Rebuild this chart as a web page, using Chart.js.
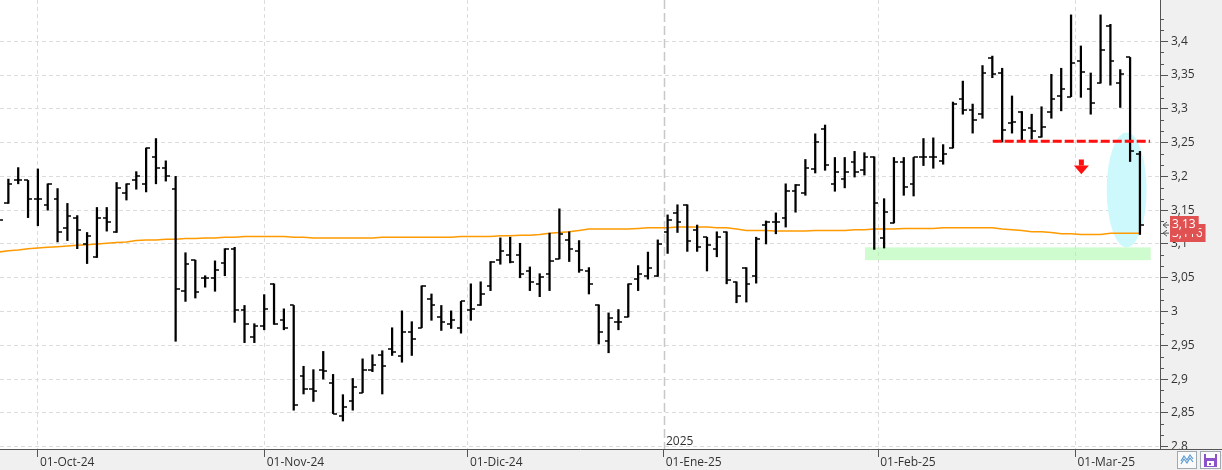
<!DOCTYPE html>
<html>
<head>
<meta charset="utf-8">
<title>OHLC</title>
<script src="https://cdn.jsdelivr.net/npm/chart.js@4.4.1/dist/chart.umd.min.js"></script>
<style>
  html, body { margin: 0; padding: 0; background: #f0f0f0; }
  canvas { display: block; }
</style>
</head>
<body>
<canvas id="ohlcChart" width="1222" height="470"></canvas>
<script>
// daily bars, one entry per session (index 0 = 25-Sep-24, last = 11-Mar-25)
var opens = [
  3.150, 3.160, 3.195, 3.194, 3.166, 3.157, 3.167, 3.123, 3.138, 3.100,
  3.080, 3.138, 3.117, 3.176, 3.195, 3.188, 3.228, 3.213, 3.182, 3.031,
  3.076, 3.050, 3.050, 3.072, 3.092, 3.003, 2.963, 2.978, 3.041, 2.988,
  3.009, 2.905, 2.886, 2.914, 2.894, 2.846, 2.867, 2.880, 2.913, 2.935,
  2.945, 2.934, 2.969, 2.976, 3.019, 2.992, 2.982, 2.976, 3.003, 3.009,
  3.038, 3.076, 3.084, 3.083, 3.060, 3.041, 3.055, 3.078, 3.106, 3.089,
  3.060, 3.010, 2.957, 2.985, 2.992, 3.048, 3.053, 3.052, 3.118, 3.146,
  3.158, 3.121, 3.110, 3.093, 3.118, 3.044, 3.065, 3.053, 3.128, 3.133,
  3.139, 3.179, 3.176, 3.211, 3.270, 3.189, 3.196, 3.221, 3.209, 3.229,
  3.109, 3.131, 3.221, 3.189, 3.229, 3.229, 3.223, 3.242, 3.314, 3.298,
  3.292, 3.375, 3.353, 3.279, 3.296, 3.272, 3.258, 3.296, 3.319, 3.318,
  3.371, 3.329, 3.338, 3.422, 3.338, 3.376, 3.233
];
var highs = [
  3.160, 3.196, 3.213, 3.194, 3.211, 3.189, 3.182, 3.160, 3.142, 3.117,
  3.154, 3.154, 3.191, 3.189, 3.207, 3.242, 3.256, 3.223, 3.200, 3.087,
  3.076, 3.053, 3.075, 3.093, 3.095, 3.009, 2.982, 3.025, 3.041, 3.004,
  3.009, 2.919, 2.914, 2.941, 2.907, 2.877, 2.901, 2.930, 2.936, 2.942,
  2.976, 3.001, 2.985, 3.038, 3.026, 3.009, 3.001, 3.015, 3.041, 3.044,
  3.074, 3.109, 3.110, 3.101, 3.066, 3.056, 3.116, 3.152, 3.118, 3.105,
  3.065, 3.010, 2.998, 3.003, 3.041, 3.068, 3.088, 3.106, 3.143, 3.158,
  3.158, 3.128, 3.110, 3.118, 3.118, 3.044, 3.065, 3.110, 3.134, 3.146,
  3.189, 3.188, 3.225, 3.263, 3.276, 3.228, 3.228, 3.237, 3.235, 3.229,
  3.167, 3.228, 3.228, 3.228, 3.256, 3.257, 3.247, 3.310, 3.341, 3.307,
  3.364, 3.378, 3.360, 3.319, 3.296, 3.292, 3.303, 3.351, 3.360, 3.439,
  3.393, 3.353, 3.439, 3.425, 3.358, 3.376, 3.237
];
var lows = [
  3.128, 3.160, 3.189, 3.139, 3.127, 3.150, 3.103, 3.105, 3.093, 3.071,
  3.080, 3.119, 3.117, 3.165, 3.181, 3.177, 3.189, 3.193, 2.956, 3.015,
  3.020, 3.036, 3.030, 3.053, 2.984, 2.954, 2.954, 2.973, 2.981, 2.973,
  2.854, 2.878, 2.867, 2.900, 2.849, 2.838, 2.854, 2.880, 2.911, 2.878,
  2.935, 2.925, 2.935, 2.976, 2.987, 2.972, 2.975, 2.968, 2.987, 3.009,
  3.031, 3.070, 3.072, 3.050, 3.031, 3.022, 3.031, 3.078, 3.074, 3.058,
  3.026, 2.952, 2.939, 2.973, 2.992, 3.031, 3.048, 3.052, 3.086, 3.117,
  3.089, 3.089, 3.060, 3.081, 3.041, 3.013, 3.014, 3.042, 3.100, 3.115,
  3.125, 3.147, 3.172, 3.205, 3.209, 3.178, 3.183, 3.199, 3.202, 3.092,
  3.094, 3.131, 3.172, 3.171, 3.216, 3.212, 3.218, 3.242, 3.292, 3.264,
  3.286, 3.346, 3.251, 3.264, 3.253, 3.255, 3.258, 3.286, 3.297, 3.318,
  3.317, 3.292, 3.338, 3.335, 3.302, 3.222, 3.114
];
var closes = [
  3.135, 3.189, 3.194, 3.166, 3.166, 3.188, 3.117, 3.142, 3.120, 3.112,
  3.138, 3.132, 3.183, 3.188, 3.200, 3.242, 3.213, 3.200, 3.034, 3.070,
  3.029, 3.050, 3.062, 3.093, 3.003, 2.981, 2.978, 3.004, 2.981, 2.976,
  2.862, 2.886, 2.883, 2.912, 2.849, 2.859, 2.889, 2.913, 2.921, 2.919,
  2.940, 2.970, 2.960, 3.038, 3.009, 2.985, 2.987, 3.015, 3.004, 3.026,
  3.074, 3.090, 3.074, 3.055, 3.043, 3.051, 3.075, 3.115, 3.093, 3.061,
  3.041, 2.970, 2.991, 2.985, 3.041, 3.055, 3.065, 3.100, 3.136, 3.133,
  3.105, 3.096, 3.099, 3.110, 3.047, 3.023, 3.041, 3.107, 3.133, 3.133,
  3.179, 3.187, 3.212, 3.251, 3.217, 3.207, 3.207, 3.207, 3.229, 3.161,
  3.148, 3.221, 3.185, 3.228, 3.229, 3.229, 3.233, 3.307, 3.298, 3.283,
  3.353, 3.351, 3.269, 3.280, 3.269, 3.267, 3.273, 3.314, 3.329, 3.368,
  3.354, 3.309, 3.387, 3.371, 3.351, 3.237, 3.128
];
var movingAvg = [
  3.088, 3.090, 3.091, 3.093, 3.094, 3.095, 3.096, 3.097, 3.098, 3.099,
  3.100, 3.101, 3.102, 3.103, 3.105, 3.106, 3.106, 3.107, 3.107, 3.108,
  3.108, 3.109, 3.109, 3.110, 3.110, 3.111, 3.111, 3.111, 3.111, 3.111,
  3.110, 3.110, 3.109, 3.109, 3.109, 3.109, 3.109, 3.109, 3.109, 3.110,
  3.110, 3.110, 3.110, 3.110, 3.110, 3.110, 3.110, 3.111, 3.111, 3.111,
  3.111, 3.112, 3.112, 3.113, 3.113, 3.114, 3.116, 3.117, 3.118, 3.120,
  3.122, 3.122, 3.122, 3.122, 3.122, 3.123, 3.124, 3.124, 3.124, 3.125,
  3.125, 3.125, 3.125, 3.124, 3.124, 3.122, 3.120, 3.120, 3.120, 3.119,
  3.119, 3.119, 3.119, 3.120, 3.120, 3.120, 3.120, 3.121, 3.121, 3.122,
  3.122, 3.122, 3.123, 3.123, 3.123, 3.123, 3.124, 3.124, 3.124, 3.124,
  3.124, 3.124, 3.122, 3.121, 3.120, 3.118, 3.118, 3.117, 3.115, 3.115,
  3.114, 3.114, 3.114, 3.116, 3.116, 3.116, 3.116
];

// axis ticks (month starts fall between sessions)
var monthTicks = [4, 27.05, 47.7, 67.6, 89.4, 109.45];
var monthLabels = ['01-Oct-24', '01-Nov-24', '01-Dic-24', '01-Ene-25', '01-Feb-25', '01-Mar-25'];
var priceTicks = [2.8, 2.85, 2.9, 2.95, 3, 3.05, 3.1, 3.15, 3.2, 3.25, 3.3, 3.35, 3.4];
var yearLabel = '2025';

// drawings on the chart
var resistance = { from: 101.04, to: 117.03, value: 3.252 };
var supportZone = { from: 88.06, to: 117.1, low: 3.076, high: 3.095 };
var highlight = { x: 114.65, y: 3.18, dx: 2.03, dy: 0.085 };
var downArrow = { x: 110.05, top: 3.225, neck: 3.216, tip: 3.203 };

function fmt(v, d) {
  return (Math.round(v * Math.pow(10, d)) / Math.pow(10, d)).toString().replace('.', ',');
}

// little canvases used as point styles for the open / close ticks
function makeTick(side) {
  var c = document.createElement('canvas');
  c.width = 8;
  c.height = 2;
  var g = c.getContext('2d');
  g.fillStyle = '#000';
  if (side === 'left') {
    g.fillRect(0, 0.25, 4, 1.5);
  } else {
    g.fillRect(4, 0.25, 4, 1.5);
  }
  return c;
}
var openTick = makeTick('left');
var closeTick = makeTick('right');

var rangeData = highs.map(function (h, i) {
  return { x: i, y: [lows[i], h] };
});
var openData = opens.map(function (o, i) {
  return { x: i, y: o };
});
var closeData = closes.map(function (c, i) {
  return { x: i, y: c };
});
var maData = movingAvg.map(function (m, i) {
  return { x: i, y: m };
});

function noPadding(scale) {
  scale.paddingTop = 0;
  scale.paddingBottom = 0;
  scale.paddingLeft = 0;
  scale.paddingRight = 0;
}

var chartDecor = {
  id: 'chartDecor',
  beforeDraw: function (chart) {
    var ctx = chart.ctx;
    var a = chart.chartArea;
    ctx.save();
    ctx.fillStyle = '#f0f0f0';
    ctx.fillRect(0, 0, chart.width, chart.height);
    ctx.fillStyle = '#ffffff';
    ctx.fillRect(a.left, a.top, a.right - a.left, a.bottom - a.top);
    ctx.restore();
  },
  beforeDatasetsDraw: function (chart) {
    var ctx = chart.ctx;
    var a = chart.chartArea;
    var xs = chart.scales.x;
    var ys = chart.scales.y;
    ctx.save();
    ctx.beginPath();
    ctx.rect(a.left, a.top, a.right - a.left, a.bottom - a.top);
    ctx.clip();

    // support zone
    var x1 = xs.getPixelForValue(supportZone.from);
    var x2 = xs.getPixelForValue(supportZone.to);
    var y1 = ys.getPixelForValue(supportZone.high);
    var y2 = ys.getPixelForValue(supportZone.low);
    ctx.fillStyle = 'rgba(160, 250, 160, 0.5)';
    ctx.fillRect(x1, y1, x2 - x1, y2 - y1);

    // highlight ellipse
    var cx = xs.getPixelForValue(highlight.x);
    var cy = ys.getPixelForValue(highlight.y);
    var rx = xs.getPixelForValue(highlight.x + highlight.dx) - cx;
    var ry = cy - ys.getPixelForValue(highlight.y + highlight.dy);
    ctx.fillStyle = '#cdf9fd';
    ctx.beginPath();
    ctx.ellipse(cx, cy, rx, ry, 0, 0, Math.PI * 2);
    ctx.fill();

    // year separator
    var jx = Math.round(xs.getPixelForValue(monthTicks[3])) + 0.5;
    ctx.strokeStyle = '#c8c8c8';
    ctx.lineWidth = 1.5;
    ctx.setLineDash([9, 4]);
    ctx.beginPath();
    ctx.moveTo(jx, a.top);
    ctx.lineTo(jx, a.bottom);
    ctx.stroke();
    ctx.restore();
  },
  afterDatasetsDraw: function (chart) {
    var ctx = chart.ctx;
    var xs = chart.scales.x;
    var ys = chart.scales.y;
    ctx.save();

    // resistance line
    var ry = ys.getPixelForValue(resistance.value);
    ctx.strokeStyle = '#ff1010';
    ctx.lineWidth = 3;
    ctx.setLineDash([9, 3]);
    ctx.beginPath();
    ctx.moveTo(xs.getPixelForValue(resistance.from), ry);
    ctx.lineTo(xs.getPixelForValue(resistance.to), ry);
    ctx.stroke();
    ctx.setLineDash([]);

    // down arrow
    var ax = xs.getPixelForValue(downArrow.x);
    var aTop = ys.getPixelForValue(downArrow.top);
    var aNeck = ys.getPixelForValue(downArrow.neck);
    var aTip = ys.getPixelForValue(downArrow.tip);
    ctx.fillStyle = '#ff1010';
    ctx.fillRect(ax - 2.5, aTop, 5, aNeck - aTop);
    ctx.beginPath();
    ctx.moveTo(ax - 7.5, aNeck);
    ctx.lineTo(ax + 7.5, aNeck);
    ctx.lineTo(ax, aTip);
    ctx.closePath();
    ctx.fill();
    ctx.restore();
  },
  afterDraw: function (chart) {
    var ctx = chart.ctx;
    var a = chart.chartArea;
    var xs = chart.scales.x;
    var ys = chart.scales.y;
    ctx.save();

    // minor ticks on the price axis
    ctx.strokeStyle = '#555';
    ctx.lineWidth = 1;
    var step = (priceTicks[1] - priceTicks[0]) / 3;
    for (var k = 0; k < priceTicks.length; k++) {
      for (var m = 1; m <= 2; m++) {
        var py = Math.round(ys.getPixelForValue(priceTicks[k] + m * step)) + 0.5;
        if (py < a.top) continue;
        ctx.beginPath();
        ctx.moveTo(a.right, py);
        ctx.lineTo(a.right + 4, py);
        ctx.stroke();
      }
    }

    // year label
    ctx.fillStyle = '#333';
    ctx.font = '12px "Open Sans", sans-serif';
    ctx.textBaseline = 'alphabetic';
    ctx.textAlign = 'left';
    ctx.fillText(yearLabel, Math.round(xs.getPixelForValue(monthTicks[3])) + 2, a.bottom - 4);

    // last value labels
    var last = closes.length - 1;
    var labels = [
      { value: movingAvg[last], text: fmt(movingAvg[last], 3) },
      { value: closes[last], text: fmt(closes[last], 2) }
    ];
    labels.forEach(function (l) {
      var ly = ys.getPixelForValue(l.value);
      var w = ctx.measureText(l.text).width + 5;
      ctx.fillStyle = '#e05252';
      ctx.fillRect(a.right + 10, Math.round(ly - 9), w, 18);
      ctx.fillStyle = '#ffffff';
      ctx.textBaseline = 'middle';
      ctx.fillText(l.text, a.right + 12, ly);
      // small pointer
      ctx.strokeStyle = '#555';
      ctx.beginPath();
      ctx.moveTo(a.right + 7, ly - 3);
      ctx.lineTo(a.right + 3, ly);
      ctx.lineTo(a.right + 7, ly + 3);
      ctx.moveTo(a.right + 3, ly);
      ctx.lineTo(a.right + 9, ly);
      ctx.stroke();
    });

    // corner with buttons
    ctx.fillStyle = '#f0f0f0';
    ctx.fillRect(a.right + 1, a.bottom + 1, chart.width - a.right, chart.height - a.bottom);
    ctx.strokeStyle = '#555';
    ctx.beginPath();
    ctx.moveTo(a.right, a.bottom + 0.5);
    ctx.lineTo(chart.width, a.bottom + 0.5);
    ctx.stroke();

    ctx.fillStyle = '#fafafa';
    ctx.strokeStyle = '#a0a8b0';
    ctx.fillRect(1177.5, 451.5, 19, 17);
    ctx.strokeRect(1177.5, 451.5, 19, 17);
    ctx.fillRect(1200.5, 451.5, 20, 17);
    ctx.strokeRect(1200.5, 451.5, 20, 17);

    ctx.strokeStyle = '#5b9bd5';
    ctx.lineWidth = 1.2;
    [0, 3].forEach(function (off) {
      ctx.beginPath();
      ctx.moveTo(1181, 461 + off);
      ctx.lineTo(1184, 456 + off);
      ctx.lineTo(1187, 460 + off);
      ctx.lineTo(1190, 455 + off);
      ctx.lineTo(1193, 459 + off);
      ctx.stroke();
    });

    ctx.fillStyle = '#8b52c9';
    ctx.fillRect(1204, 454, 13, 13);
    ctx.fillStyle = '#ffffff';
    ctx.fillRect(1206, 454, 9, 4);
    ctx.fillRect(1207, 461, 7, 5);
    ctx.fillStyle = '#8b52c9';
    ctx.fillRect(1209, 463, 2, 2);
    ctx.restore();
  }
};

Chart.defaults.font.family = '"Open Sans", sans-serif';
Chart.defaults.font.size = 12;
Chart.defaults.color = '#333';

var ctx = document.getElementById('ohlcChart').getContext('2d');
var ohlcChart = new Chart(ctx, {
  type: 'scatter',
  data: {
    datasets: [
      {
        type: 'line',
        label: 'Media',
        data: maData,
        borderColor: '#ff9a00',
        borderWidth: 1.5,
        pointRadius: 0,
        tension: 0,
        order: 3
      },
      {
        type: 'bar',
        label: 'Rango',
        data: rangeData,
        backgroundColor: '#000',
        borderWidth: 0,
        barThickness: 1.6,
        order: 2
      },
      {
        type: 'scatter',
        label: 'Apertura',
        data: openData,
        pointStyle: openTick,
        pointRadius: 4,
        order: 1
      },
      {
        type: 'scatter',
        label: 'Cierre',
        data: closeData,
        pointStyle: closeTick,
        pointRadius: 4,
        order: 1
      }
    ]
  },
  options: {
    responsive: false,
    animation: false,
    events: [],
    layout: { padding: 0, autoPadding: false },
    plugins: {
      legend: { display: false },
      tooltip: { enabled: false }
    },
    scales: {
      x: {
        type: 'linear',
        min: 0.15,
        max: 118.04,
        offset: false,
        afterBuildTicks: function (scale) {
          scale.ticks = monthTicks.map(function (v) { return { value: v }; });
        },
        afterFit: function (scale) {
          scale.height = 21;
          noPadding(scale);
        },
        ticks: {
          autoSkip: false,
          maxRotation: 0,
          align: 'start',
          labelOffset: 2,
          padding: -2,
          callback: function (value, index) {
            return monthLabels[index];
          }
        },
        grid: {
          offset: false,
          color: function (c) {
            return c.index === 3 ? 'rgba(0,0,0,0)' : '#dcdcdc';
          },
          tickColor: '#555',
          tickLength: 8
        },
        border: { display: true, color: '#555', dash: [4, 3] }
      },
      y: {
        type: 'linear',
        position: 'right',
        min: 2.7966,
        max: 3.461,
        afterBuildTicks: function (scale) {
          scale.ticks = priceTicks.map(function (v) { return { value: v }; });
        },
        afterFit: function (scale) {
          scale.width = 62;
          noPadding(scale);
        },
        ticks: {
          padding: 3,
          callback: function (value) {
            return fmt(value, 2);
          }
        },
        grid: {
          color: '#dcdcdc',
          tickColor: '#555',
          tickLength: 8
        },
        border: { display: true, color: '#555', dash: [4, 3] }
      }
    }
  },
  plugins: [chartDecor]
});
</script>
</body>
</html>
